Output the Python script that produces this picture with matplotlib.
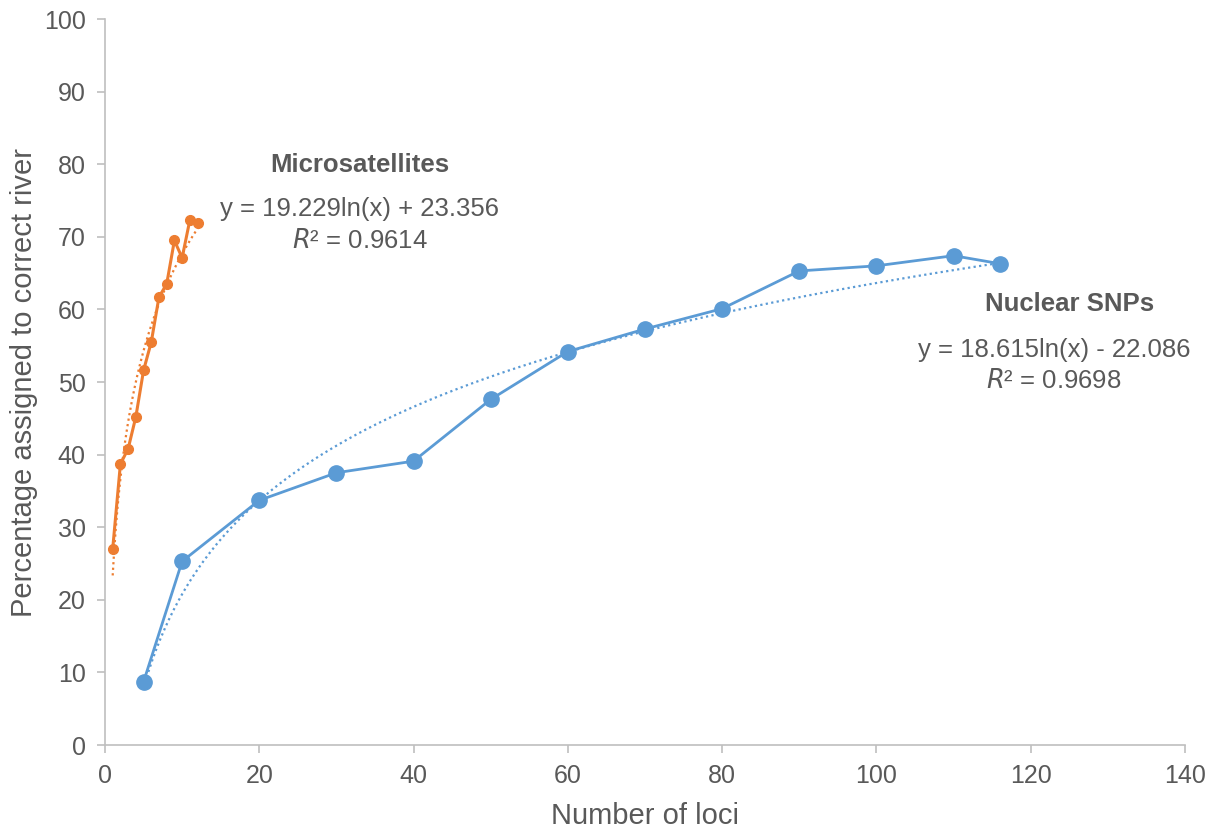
import numpy as np
import matplotlib.pyplot as plt

plt.rcParams['font.family'] = ['Liberation Sans', 'DejaVu Sans']

# microsatellites
ms_loci = [1, 2, 3, 4, 5, 6, 7, 8, 9, 10, 11, 12]
ms_pct = [27.0, 38.7, 40.8, 45.2, 51.6, 55.5, 61.7, 63.5, 69.5, 67.1, 72.3, 71.9]

# nuclear SNPs
snp_loci = [5, 10, 20, 30, 40, 50, 60, 70, 80, 90, 100, 110, 116]
snp_pct = [8.7, 25.3, 33.7, 37.5, 39.1, 47.6, 54.2, 57.3, 60.1, 65.3, 66.0, 67.4, 66.3]

# log trendline coefficients (a*ln(x) + b)
ms_fit = (19.229, 23.356)
snp_fit = (18.615, -22.086)

orange = '#ED7D31'
blue = '#5B9BD5'
grey = '#595959'

fig = plt.figure(figsize=(12.15, 8.3), dpi=100)
ax = fig.add_axes([0.0864, 0.1024, 0.8889, 0.8747])

x1 = np.linspace(min(ms_loci), max(ms_loci), 200)
ax.plot(x1, ms_fit[0] * np.log(x1) + ms_fit[1], color=orange, lw=1.6, ls=(0, (1, 1.5)))
x2 = np.linspace(min(snp_loci), max(snp_loci), 400)
ax.plot(x2, snp_fit[0] * np.log(x2) + snp_fit[1], color=blue, lw=1.6, ls=(0, (1, 1.5)))

ax.plot(ms_loci, ms_pct, color=orange, lw=2.2, marker='o', ms=7)
ax.plot(snp_loci, snp_pct, color=blue, lw=2.0, marker='o', ms=11)

ax.set_xlim(0, 140)
ax.set_ylim(0, 100)
ax.set_xticks(range(0, 141, 20))
ax.set_yticks(range(0, 101, 10))

for s in ['top', 'right']:
    ax.spines[s].set_visible(False)
for s in ['left', 'bottom']:
    ax.spines[s].set_color('#BFBFBF')
    ax.spines[s].set_linewidth(1.2)
ax.tick_params(colors='#BFBFBF', labelcolor=grey, labelsize=18, length=6, width=1.2)
ax.tick_params(axis='y', pad=8)
ax.tick_params(axis='x', pad=8)

ax.set_xlabel('Number of loci', fontsize=21, color=grey, labelpad=10)
ax.set_ylabel('Percentage assigned to correct river', fontsize=21, color=grey, labelpad=4)

fs = 18.5
ax.text(33, 79.9, 'Microsatellites', fontsize=fs, fontweight='bold', color=grey, ha='center', va='center')
ax.text(33, 73.8, 'y = 19.229ln(x) + 23.356', fontsize=fs, color=grey, ha='center', va='center')
ax.text(33, 69.4, '$R$² = 0.9614', fontsize=fs, color=grey, ha='center', va='center')

ax.text(125.1, 60.7, 'Nuclear SNPs', fontsize=fs, fontweight='bold', color=grey, ha='center', va='center')
ax.text(123.0, 54.4, 'y = 18.615ln(x) - 22.086', fontsize=fs, color=grey, ha='center', va='center')
ax.text(123.0, 50.1, '$R$² = 0.9698', fontsize=fs, color=grey, ha='center', va='center')

fig.savefig('out.png', dpi=100)
